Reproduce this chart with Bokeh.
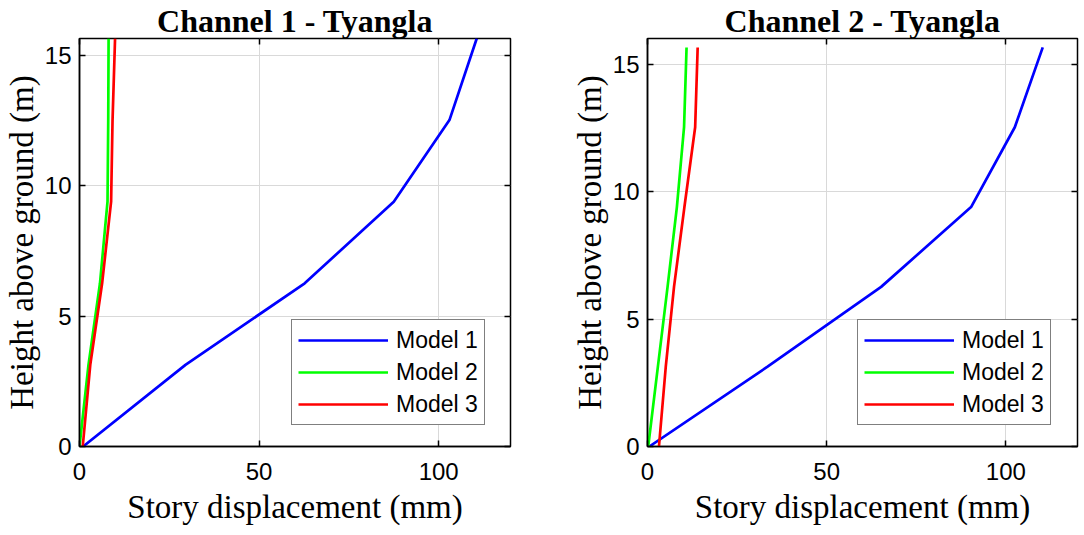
from bokeh.plotting import figure
from bokeh.models import LinearAxis, FixedTicker, Range1d, Title
from bokeh.layouts import row
from bokeh.embed import file_html
from bokeh.resources import INLINE

# ---------------- data ----------------
heights = [0, 3.13, 6.26, 9.39, 12.52, 15.65]

ch1_model1 = [1.0, 29.5, 62.7, 87.5, 103.0, 110.6]
ch1_model2 = [0.0, 2.5, 5.7, 7.8, 8.0, 8.1]
ch1_model3 = [0.9, 3.0, 6.3, 8.8, 9.2, 9.9]

ch2_model1 = [0.5, 33.5, 65.2, 90.3, 102.5, 110.3]
ch2_model2 = [0.2, 2.9, 5.6, 8.2, 10.2, 10.9]
ch2_model3 = [3.2, 5.1, 7.4, 10.3, 13.3, 14.0]

titles = ["Channel 1 - Tyangla", "Channel 2 - Tyangla"]
labels = ["Model 1", "Model 2", "Model 3"]
colors = ["#0000ff", "#00ff00", "#ff0000"]
x_ticks = [0, 50, 100]
y_ticks = [0, 5, 10, 15]
x_label = "Story displacement (mm)"
y_label = "Height above ground (m)"

SERIF = "Liberation Serif"
SANS = "Liberation Sans"


def make_plot(title, series, ytop, fw, left, right, legend_x):
    p = figure(frame_width=fw, frame_height=408, output_backend="svg",
               toolbar_location=None, x_range=Range1d(0, 120),
               y_range=Range1d(0, ytop),
               min_border_left=left, min_border_right=right,
               min_border_top=33, min_border_bottom=78)
    p.title = None
    p.background_fill_color = "white"
    p.border_fill_color = "white"
    p.outline_line_color = "black"
    p.outline_line_width = 1.5

    for xs, lab, col in zip(series, labels, colors):
        p.line(xs, heights, line_color=col, line_width=2.7, legend_label=lab)

    for ax, ticks in ((p.xaxis[0], x_ticks), (p.yaxis[0], y_ticks)):
        ax.ticker = FixedTicker(ticks=ticks)
        ax.major_label_text_font = SANS
        ax.major_label_text_font_size = "24px"
        ax.major_label_text_color = "black"
        ax.axis_label_text_font = SERIF
        ax.axis_label_text_font_size = "33px"
        ax.axis_label_text_font_style = "normal"
        ax.axis_label_text_color = "black"
        ax.axis_line_color = "black"
        ax.axis_line_width = 1.5
        ax.major_tick_in = 6
        ax.major_tick_out = 0
        ax.major_tick_line_color = "black"
        ax.major_tick_line_width = 1.5
        ax.minor_tick_line_color = None
    p.xaxis.axis_label = x_label
    p.yaxis.axis_label = y_label
    p.xaxis.major_label_standoff = 16
    p.xaxis.axis_label_standoff = 6
    p.yaxis.major_label_standoff = 8
    p.yaxis.axis_label_standoff = 2

    for loc, ticks in (("right", y_ticks), ("above", x_ticks)):
        ax = LinearAxis(ticker=FixedTicker(ticks=ticks),
                        major_label_overrides={v: "" for v in ticks},
                        major_label_text_font_size="1px",
                        major_label_standoff=0,
                        major_tick_in=6, major_tick_out=0,
                        major_tick_line_color="black",
                        major_tick_line_width=1.5,
                        minor_tick_line_color=None,
                        axis_line_color=None)
        p.add_layout(ax, loc)

    t = Title(text=title, align="center", text_font=SERIF,
              text_font_size="32px", text_font_style="bold",
              text_color="black", standoff=0, offset=0)
    p.add_layout(t, "above")

    p.grid.grid_line_color = "#d9d9d9"
    p.grid.grid_line_width = 1
    p.xgrid.ticker = FixedTicker(ticks=x_ticks)
    p.ygrid.ticker = FixedTicker(ticks=y_ticks)

    lg = p.legend[0]
    lg.location = (legend_x, 21)
    lg.label_text_font = SANS
    lg.label_text_font_size = "23px"
    lg.label_text_color = "black"
    lg.glyph_width = 90
    lg.glyph_height = 28
    lg.label_height = 28
    lg.label_standoff = 8
    lg.spacing = 4
    lg.padding = 6
    lg.margin = 0
    lg.border_line_color = "black"
    lg.border_line_width = 1.5
    lg.background_fill_color = "white"
    lg.background_fill_alpha = 1.0
    return p


p1 = make_plot(titles[0], [ch1_model1, ch1_model2, ch1_model3], 15.65,
               431, 73, 56, 212)
p2 = make_plot(titles[1], [ch2_model1, ch2_model2, ch2_model3], 16,
               430, 81, 4, 210)

layout = row(p1, p2)
open("out.html", "w").write(file_html(layout, INLINE))
